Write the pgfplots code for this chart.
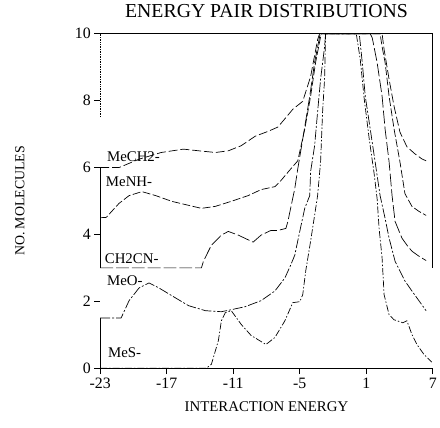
\documentclass[border=0pt]{standalone}
\usepackage{fontspec}
\setmainfont{Liberation Serif}
\usepackage{pgfplots}
\pgfplotsset{compat=1.18}
\begin{document}
\begin{tikzpicture}
\begin{axis}[
  scale only axis, width=335bp, height=337bp,
  xmin=-23, xmax=7, ymin=0, ymax=10,
  axis x line*=bottom, axis y line*=left,
  x axis line style={-, line width=0.7pt},
  y axis line style={draw=none},
  xtick={-23,-17,-11,-5,1,7}, ytick={0,2,4,6,8,10},
  tick align=outside, major tick length=6bp,
  tick style={black, line width=0.6pt},
  tick label style={font=\fontsize{16}{16}\selectfont},
  /pgf/number format/assume math mode=true,
  xlabel={INTERACTION ENERGY},
  title={ENERGY PAIR DISTRIBUTIONS},
  title style={font=\fontsize{20}{20}\selectfont, at={([yshift=17bp]rel axis cs:0.5,1)}, anchor=center},
  xlabel style={font=\fontsize{15}{15}\selectfont, at={([yshift=-39bp]rel axis cs:0.5,0)}, anchor=center},
  clip=false,
  every axis plot/.append style={black, line width=0.7pt},
]
% frame pieces
\addplot[line width=0.9pt] coordinates {(-23,10) (7,10)};
\addplot[densely dotted] coordinates {(-23,10) (-23,7.5)};
\addplot[] coordinates {(-23,6) (-23,3)};
\addplot[] coordinates {(-23,1.5) (-23,0)};
\addplot[line width=0.6pt] coordinates {(7,10) (7,3)};
% MeCH2-
\addplot[dash pattern=on 9pt off 3pt] coordinates {
(-23,6.0)(-21.3,6.0)(-19.5,6.25)(-17.5,6.45)(-15.5,6.55)(-14.1,6.5)(-12.6,6.45)(-11.45,6.5)(-10.3,6.65)(-9.0,6.94)(-7.87,7.08)(-6.97,7.21)(-5.63,7.74)(-4.73,7.98)(-4.02,8.72)(-3.39,9.82)(-3.21,10)(2.43,10)(2.61,9.53)(3.06,8.64)(3.51,7.83)(4.04,7.06)(4.67,6.62)(5.39,6.41)(6.01,6.26)(6.4,6.2)};
% MeNH-
\addplot[dash pattern=on 8pt off 2.5pt] coordinates {
(-23,4.5)(-22.46,4.51)(-21.3,4.93)(-20.4,5.16)(-19.24,5.28)(-17.99,5.16)(-16.55,4.99)(-15.03,4.87)(-13.87,4.78)(-12.61,4.84)(-11.18,4.99)(-9.66,5.16)(-8.49,5.34)(-7.24,5.43)(-6.70,5.61)(-5.81,5.96)(-5.18,6.2)(-4.55,7.15)(-4.02,8.13)(-3.57,9.14)(-3.12,9.91)(-3.05,10)(2.25,10)(2.43,9.61)(2.70,9.14)(3.06,8.13)(3.51,7.15)(4.04,6.17)(4.49,5.22)(5.12,4.84)(5.75,4.69)(6.4,4.57)};
% CH2CN-
\addplot[dash pattern=on 13pt off 3pt] coordinates {
(-23,3.0)(-13.87,3.0)(-13.69,3.2)(-12.97,3.68)(-12.07,3.98)(-11.45,4.09)(-10.55,3.98)(-9.21,3.77)(-8.49,3.98)(-7.6,4.12)(-6.97,4.12)(-6.25,4.18)(-6.07,4.39)(-5.45,5.37)(-5.18,5.96)(-4.73,6.85)(-4.1,8.13)(-3.66,9.14)(-3.21,9.91)(-3.15,10)(1.36,10)(1.54,9.88)(1.98,9.14)(2.43,8.13)(2.70,7.15)(3.06,6.17)(3.33,5.16)(3.60,4.39)(4.22,3.89)(4.67,3.68)(5.12,3.50)(5.75,3.35)(6.4,3.22)};
% MeO-
\addplot[dash pattern=on 10pt off 2pt on 2pt off 2pt] coordinates {
(-23,1.5)(-21.12,1.5)(-20.4,2.02)(-19.5,2.40)(-18.6,2.55)(-17.7,2.40)(-16.55,2.17)(-15.03,1.87)(-13.5,1.72)(-12.07,1.69)(-11.18,1.75)(-9.93,1.84)(-8.49,2.02)(-7.24,2.31)(-6.34,2.70)(-5.81,3.09)(-5.45,3.38)(-5.0,4.09)(-4.55,4.78)(-4.1,5.16)(-4.02,5.88)(-3.66,6.65)(-3.39,7.66)(-3.12,8.64)(-2.76,9.61)(-2.67,10)(0.37,10)(0.64,9.14)(0.91,8.13)(1.36,7.15)(1.80,6.17)(2.25,5.16)(2.70,4.48)(3.06,3.89)(3.6,3.2)(4.49,2.61)(5.12,2.31)(5.75,2.02)(6.4,1.72)};
% MeS-
\addplot[dash pattern=on 7pt off 2pt on 1.5pt off 2pt] coordinates {
(-23,0)(-13.42,0)(-12.97,0.12)(-12.34,0.83)(-12.07,1.42)(-11.72,1.66)(-11.18,1.72)(-10.28,1.31)(-9.39,0.98)(-8.05,0.71)(-7.24,0.92)(-6.34,1.42)(-5.63,1.96)(-5.0,1.99)(-4.73,2.20)(-4.46,2.91)(-4.02,3.80)(-3.66,4.57)(-3.39,5.16)(-3.12,6.17)(-2.94,7.66)(-2.76,8.64)(-2.67,10)(0.10,10)(0.46,9.23)(0.82,8.04)(1.27,6.85)(1.71,5.82)(1.98,5.07)(2.16,4.18)(2.43,3.29)(2.61,2.2)(3.06,1.6)(3.5,1.45)(4.3,1.36)(4.67,1.42)(5.12,1.01)(5.57,0.71)(6.19,0.42)(6.91,0.18)};
% labels
\begin{scope}[every node/.style={anchor=west, inner sep=0pt, font=\fontsize{15}{15}\selectfont}]
\node at (axis cs:-22.4,6.32) {MeCH2-};
\node at (axis cs:-22.5,5.58) {MeNH-};
\node at (axis cs:-22.6,3.29) {CH2CN-};
\node at (axis cs:-22.4,2.61) {MeO-};
\node at (axis cs:-22.3,0.47) {MeS-};
\end{scope}
\node[rotate=90, anchor=center, inner sep=0pt, font=\fontsize{14}{14}\selectfont] at ([xshift=-81bp]rel axis cs:0,0.5) {NO. MOLECULES};
\path ([xshift=-101bp,yshift=-60bp]rel axis cs:0,0) rectangle ([xshift=4bp,yshift=34bp]rel axis cs:1,1);
\end{axis}
\end{tikzpicture}
\end{document}
